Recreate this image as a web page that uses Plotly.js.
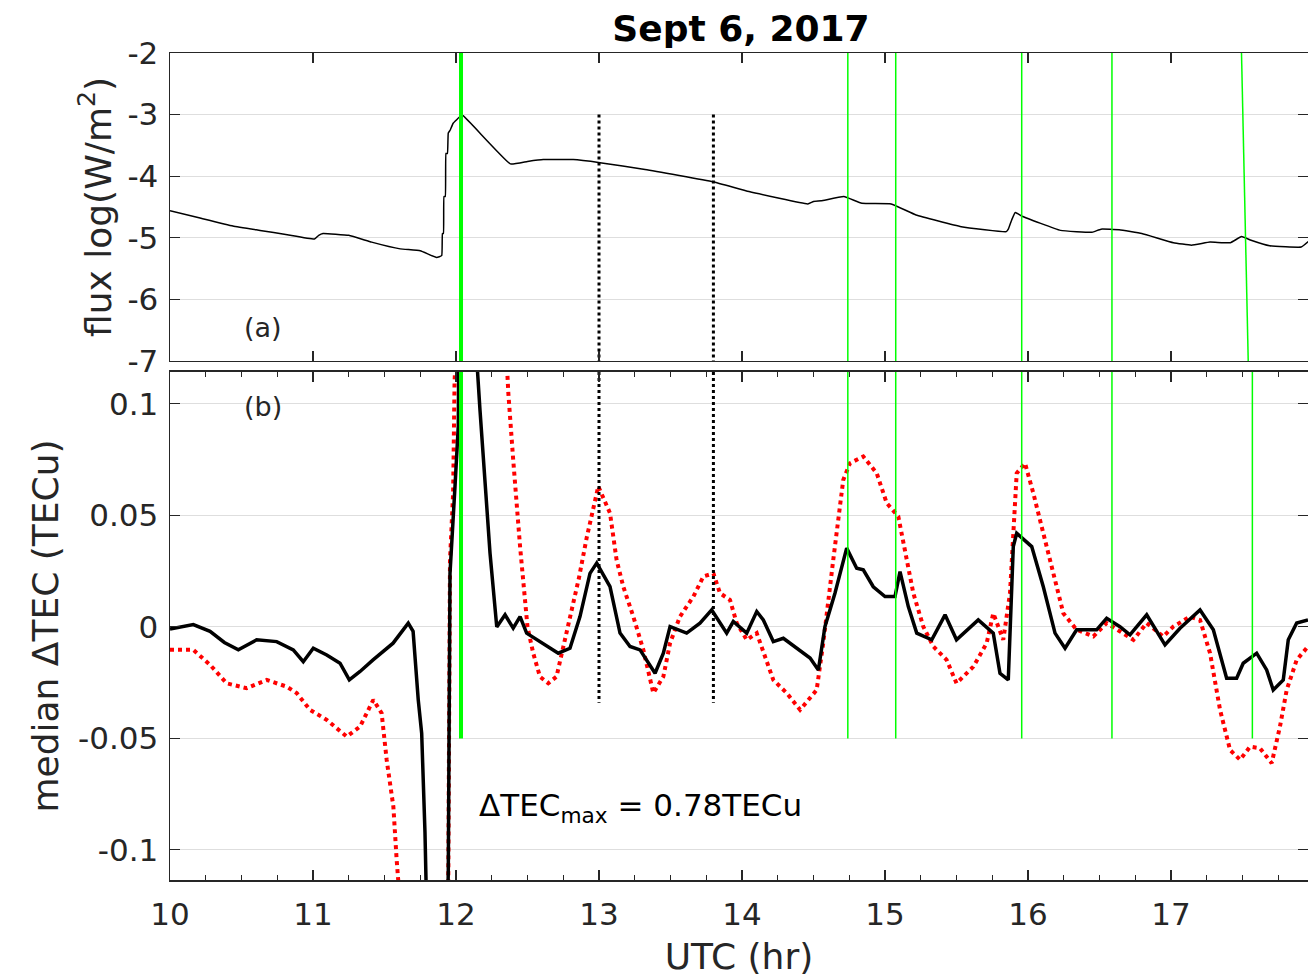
<!DOCTYPE html>
<html>
<head>
<meta charset="utf-8">
<script src="https://cdn.plot.ly/plotly-3.0.1.min.js"></script>
<style>
  html, body { margin: 0; padding: 0; background: #ffffff; }
  #chart { width: 1308px; height: 979px; }
</style>
</head>
<body>
<div id="chart"></div>
<script>
// ---- GOES X-ray flux, log10(W/m^2) ----
const fluxTime = [10.0, 10.21, 10.44, 10.63, 10.82, 11.01, 11.04, 11.07, 11.25, 11.41, 11.61, 11.75, 11.865,
  11.90, 11.905, 11.912, 11.916, 11.925, 11.93, 11.94, 11.946, 11.96, 11.98, 12.03, 12.05, 12.38, 12.50, 12.61, 12.82,
  13.007, 13.322, 13.797, 14.049, 14.46, 14.50, 14.554, 14.712, 14.838, 15.043, 15.217, 15.533, 15.848, 15.864,
  15.886, 15.911, 15.958, 16.227, 16.448, 16.51, 16.638, 16.796, 17.017, 17.143, 17.273, 17.415, 17.494, 17.56,
  17.69, 17.91, 17.96];
const fluxLog = [-4.56, -4.68, -4.81, -4.88, -4.95, -5.02, -4.96, -4.93, -4.96, -5.07, -5.18, -5.21, -5.32,
  -5.29, -4.93, -4.93, -4.33, -4.33, -3.63, -3.63, -3.30, -3.25, -3.14, -3.03, -3.02, -3.80, -3.76, -3.73, -3.73,
  -3.78, -3.89, -4.09, -4.25, -4.45, -4.41, -4.40, -4.33, -4.44, -4.45, -4.63, -4.82, -4.90, -4.85,
  -4.71, -4.59, -4.65, -4.88, -4.91, -4.86, -4.87, -4.93, -5.08, -5.12, -5.07, -5.08, -4.98, -5.04,
  -5.13, -5.15, -5.06];

// ---- median dTEC (solid) ----
const tecTime = [10.0, 10.08, 10.163, 10.28, 10.38, 10.478, 10.606, 10.746, 10.862, 10.932, 11.002, 11.096,
  11.189, 11.254, 11.329, 11.42, 11.56, 11.666, 11.70, 11.736, 11.76, 11.783, 11.87, 11.946, 11.952, 11.958,
  11.993, 12.016, 12.09, 12.145, 12.168, 12.203, 12.238, 12.285, 12.343, 12.40, 12.448, 12.494, 12.61, 12.715,
  12.797, 12.867, 12.937, 12.984, 13.077, 13.147, 13.217, 13.287, 13.392, 13.45, 13.497, 13.613, 13.706,
  13.788, 13.893, 13.939, 14.033, 14.103, 14.149, 14.219, 14.289, 14.382, 14.476, 14.534, 14.58, 14.65,
  14.732, 14.802, 14.848, 14.918, 15.0, 15.07, 15.105, 15.163, 15.222, 15.327, 15.42, 15.50, 15.652, 15.757,
  15.804, 15.862, 15.897, 15.921, 16.026, 16.107, 16.189, 16.259, 16.34, 16.48, 16.55, 16.643, 16.713, 16.83,
  16.958, 17.063, 17.203, 17.296, 17.389, 17.459, 17.505, 17.599, 17.669, 17.715, 17.785, 17.82, 17.879, 17.958];
const medianDTEC = [-0.001, 0.000, 0.001, -0.002, -0.007, -0.0103, -0.0058, -0.0066, -0.0103, -0.0156, -0.0096, -0.0126,
  -0.0163, -0.0238, -0.020, -0.0148, -0.0073, 0.0017, -0.002, -0.0327, -0.0477, -0.092, -0.35, -0.11, -0.06, 0.024,
  0.063, 0.09, 0.78, 0.12, 0.097, 0.067, 0.033, 0.000, 0.0054, -0.0006, 0.0046, -0.0028, -0.0073, -0.0118,
  -0.0096, 0.0046, 0.024, 0.0286, 0.018, -0.0028, -0.0088, -0.0103, -0.0208, -0.0118, 0.0001, -0.0028, 0.0017,
  0.0076, -0.0028, 0.0024, -0.0028, 0.0069, 0.0031, -0.0066, -0.0051, -0.0096, -0.014, -0.0193, 0.0001, 0.0151,
  0.0353, 0.0263, 0.0256, 0.018, 0.0136, 0.0136, 0.0248, 0.0091, -0.0028, -0.0058, 0.0054, -0.0058, 0.0031, -0.0028,
  -0.0208, -0.0238, 0.036, 0.042, 0.036, 0.018, -0.0028, -0.0096, -0.0013, -0.0013, 0.0039, 0.0001, -0.0036, 0.0054,
  -0.0081, -0.0006, 0.0076, -0.0013, -0.023, -0.023, -0.0163, -0.0118, -0.0193, -0.0283, -0.0238, -0.0058, 0.0017, 0.0031];

// ---- mean dTEC (dotted) ----
const meanTime = [10.0, 10.07, 10.163, 10.28, 10.396, 10.536, 10.676, 10.816, 10.886, 10.979, 11.096, 11.236,
  11.329, 11.422, 11.48, 11.515, 11.562, 11.585, 11.88, 11.946, 11.958, 11.98, 11.99, 12.17, 12.366, 12.40,
  12.448, 12.50, 12.54, 12.587, 12.645, 12.703, 12.762, 12.80, 12.86, 12.914, 12.995, 13.077, 13.123, 13.17,
  13.24, 13.31, 13.38, 13.45, 13.497, 13.566, 13.66, 13.73, 13.80, 13.846, 13.916, 13.963, 14.033, 14.103,
  14.173, 14.219, 14.313, 14.406, 14.522, 14.568, 14.638, 14.708, 14.755, 14.848, 14.942, 15.012, 15.093,
  15.14, 15.198, 15.268, 15.338, 15.431, 15.50, 15.618, 15.711, 15.757, 15.827, 15.874, 15.921, 15.979,
  16.037, 16.107, 16.177, 16.247, 16.34, 16.457, 16.55, 16.62, 16.737, 16.83, 16.946, 17.016, 17.133, 17.203,
  17.273, 17.343, 17.413, 17.483, 17.553, 17.622, 17.704, 17.762, 17.809, 17.879, 17.958];
const meanDTEC = [-0.0103, -0.0103, -0.0103, -0.017, -0.0253, -0.0275, -0.0238, -0.0268, -0.0297, -0.0372, -0.0417, -0.0492,
  -0.0447, -0.0327, -0.0387, -0.0596, -0.0806, -0.1045, -0.35, -0.114, 0.030, 0.06, 0.11, 0.35, 0.1048, 0.0749,
  0.036, 0.000, -0.0118, -0.0223, -0.0253, -0.0223, -0.0058, 0.004, 0.022, 0.040, 0.063, 0.051, 0.030, 0.018,
  0.0046, -0.0103, -0.0297, -0.0223, -0.0073, 0.0046, 0.0136, 0.0226, 0.024, 0.0151, 0.0121, 0.0017, -0.0058, -0.0028,
  -0.0148, -0.0238, -0.0297, -0.0372, -0.0283, -0.0073, 0.030, 0.0659, 0.0734, 0.0764, 0.0689, 0.0555, 0.0495,
  0.033, 0.0151, 0.0001, -0.0088, -0.0148, -0.0253, -0.0178, -0.0073, 0.0061, -0.0058, 0.0151, 0.0689, 0.0734,
  0.060, 0.042, 0.024, 0.0061, -0.0013, -0.0043, 0.0017, -0.0013, -0.0058, 0.0017, -0.0043, 0.0001, 0.0046, 0.0031,
  -0.0118, -0.0372, -0.0552, -0.0596, -0.0537, -0.0544, -0.0611, -0.0447, -0.0283, -0.0148, -0.0088];

// ---- event times (UTC hr) ----
const flareMain = 12.035;
const flareOthers = [14.74, 15.075, 15.956, 16.587];
const flareLateTop = [17.493, 17.54];   // upper panel: time at top, at bottom
const flareLateBottom = 17.569;
const markTimes = [13.0, 13.8];

// axis ranges and ticks
const xRange = [10, 17.958];
const fluxRange = [-7, -2];
const tecRange = [-0.1135, 0.1143];
const xTicks = [10, 11, 12, 13, 14, 15, 16, 17];
const fluxTicks = [-7, -6, -5, -4, -3, -2];
const fluxTickText = ['-7', '-6', '-5', '-4', '-3', '-2'];
const tecTicks = [-0.1, -0.05, 0, 0.05, 0.1];
const tecTickText = ['-0.1', '-0.05', '0', '0.05', '0.1'];

const GREEN = '#00ff00';
const AXC = '#262626';
const FONT = 'DejaVu Sans, Verdana, sans-serif';

// helper: vertical segments as one trace with gaps
function vsegs(times, y0, y1) {
  const xs = [], ys = [];
  times.forEach(t => { xs.push(t, t, null); ys.push(y0, y1, null); });
  return { x: xs, y: ys };
}

const traces = [];

// upper panel
traces.push({ x: fluxTime, y: fluxLog, xaxis: 'x2', yaxis: 'y2', mode: 'lines',
  line: { color: '#000000', width: 1.5, shape: 'spline', smoothing: 0.3 }, hoverinfo: 'skip' });
let s = vsegs(markTimes, -3, -7);
traces.push({ x: s.x, y: s.y, xaxis: 'x2', yaxis: 'y2', mode: 'lines',
  line: { color: '#000000', width: 3, dash: 'dot' }, hoverinfo: 'skip' });
s = vsegs(flareOthers, fluxRange[0], fluxRange[1]);
traces.push({ x: s.x.concat([flareLateTop[0], flareLateTop[1]]), y: s.y.concat([fluxRange[1], fluxRange[0]]),
  xaxis: 'x2', yaxis: 'y2', mode: 'lines', line: { color: GREEN, width: 1.5 }, hoverinfo: 'skip' });
s = vsegs([flareMain], fluxRange[0], fluxRange[1]);
traces.push({ x: s.x, y: s.y, xaxis: 'x2', yaxis: 'y2', mode: 'lines',
  line: { color: GREEN, width: 4 }, hoverinfo: 'skip' });

// lower panel
traces.push({ x: meanTime, y: meanDTEC, xaxis: 'x', yaxis: 'y', mode: 'lines',
  line: { color: '#ff0000', width: 4, dash: 'dot' }, hoverinfo: 'skip' });
traces.push({ x: tecTime, y: medianDTEC, xaxis: 'x', yaxis: 'y', mode: 'lines',
  line: { color: '#000000', width: 3.5 }, hoverinfo: 'skip' });
s = vsegs(markTimes, tecRange[1], -0.034);
traces.push({ x: s.x, y: s.y, xaxis: 'x', yaxis: 'y', mode: 'lines',
  line: { color: '#000000', width: 3, dash: 'dot' }, hoverinfo: 'skip' });
s = vsegs(flareOthers.concat([flareLateBottom]), -0.05, tecRange[1]);
traces.push({ x: s.x, y: s.y, xaxis: 'x', yaxis: 'y', mode: 'lines',
  line: { color: GREEN, width: 1.5 }, hoverinfo: 'skip' });
s = vsegs([flareMain], -0.05, tecRange[1]);
traces.push({ x: s.x, y: s.y, xaxis: 'x', yaxis: 'y', mode: 'lines',
  line: { color: GREEN, width: 4 }, hoverinfo: 'skip' });

const tickFont = { family: FONT, size: 31, color: AXC };
const titleFont = { family: FONT, size: 36, color: AXC };

const layout = {
  width: 1308, height: 979,
  margin: { l: 170, r: 0, t: 53, b: 99 },
  paper_bgcolor: '#ffffff', plot_bgcolor: '#ffffff',
  showlegend: false,
  title: { text: 'Sept 6, 2017', font: { family: FONT, size: 36, color: '#000000', weight: 'bold' },
    x: 0.5665, xref: 'container', xanchor: 'center', y: 0.9714, yref: 'container', yanchor: 'middle' },
  xaxis: {
    domain: [0, 1], anchor: 'y', range: xRange, tickvals: xTicks, ticktext: xTicks.map(String),
    ticks: 'inside', ticklen: 10, tickwidth: 1.2, tickcolor: AXC, showline: true, linecolor: AXC, linewidth: 1.5,
    mirror: 'ticks', showgrid: false, zeroline: false, tickfont: tickFont, ticklabelstandoff: 6,
    minor: { dtick: 0.25, tick0: 10, ticks: 'inside', ticklen: 5, tickcolor: AXC, tickwidth: 1, showgrid: false },
    title: { text: 'UTC (hr)', font: titleFont, standoff: 13 }
  },
  yaxis: {
    domain: [0, 0.6143], anchor: 'x', range: tecRange, tickvals: tecTicks, ticktext: tecTickText,
    ticks: 'inside', ticklen: 10, tickwidth: 1.2, tickcolor: AXC, showline: true, linecolor: AXC, linewidth: 1.5,
    mirror: 'ticks', showgrid: true, gridcolor: '#dedede', gridwidth: 1, zeroline: false, tickfont: tickFont,
    ticklabelstandoff: 4,
    title: { text: 'median \u0394TEC (TECu)', font: titleFont, standoff: 8 }
  },
  xaxis2: {
    domain: [0, 1], anchor: 'y2', range: xRange, tickvals: xTicks, showticklabels: false,
    ticks: 'inside', ticklen: 10, tickwidth: 1.2, tickcolor: AXC, showline: true, linecolor: AXC, linewidth: 1.5,
    mirror: 'ticks', showgrid: false, zeroline: false
  },
  yaxis2: {
    domain: [0.6276, 1], anchor: 'x2', range: fluxRange, tickvals: fluxTicks, ticktext: fluxTickText,
    ticks: 'inside', ticklen: 10, tickwidth: 1.2, tickcolor: AXC, showline: true, linecolor: AXC, linewidth: 1.5,
    mirror: 'ticks', showgrid: true, gridcolor: '#dedede', gridwidth: 1, zeroline: false, tickfont: tickFont,
    ticklabelstandoff: 4,
    title: { text: 'flux log(W/m<sup>2</sup>)', font: titleFont, standoff: 5 }
  },
  annotations: [
    { text: '(a)', x: 10.65, y: -6.46, xref: 'x2', yref: 'y2', showarrow: false,
      font: { family: FONT, size: 27, color: AXC }, xanchor: 'center', yanchor: 'middle' },
    { text: '(b)', x: 10.65, y: 0.099, xref: 'x', yref: 'y', showarrow: false,
      font: { family: FONT, size: 27, color: AXC }, xanchor: 'center', yanchor: 'middle' },
    { text: '\u0394TEC<sub>max</sub> = 0.78TECu', x: 12.15, y: -0.081, xref: 'x', yref: 'y', showarrow: false,
      font: { family: FONT, size: 31, color: '#000000' }, xanchor: 'left', yanchor: 'middle' }
  ]
};

Plotly.newPlot('chart', traces, layout, { staticPlot: true, displayModeBar: false });
</script>
</body>
</html>
